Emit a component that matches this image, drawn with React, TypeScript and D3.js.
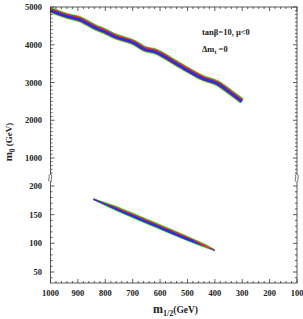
import React from 'react';
import * as d3 from 'd3';

// upper branch (m0 in GeV, one line)
const upperM12 = [1000, 938, 894, 839, 802, 766, 693, 656, 620, 543, 517, 444, 393, 345, 301];
const upperM0 = [4920, 4760, 4680, 4470, 4360, 4230, 4050, 3890, 3830, 3520, 3410, 3120, 2990, 2750, 2510];

// lower branch (a thin band: outer edges)
const lowerM12 = [843, 800, 773, 700, 649, 590, 528, 470, 430, 400];
const lowerTop = [178.8, 172.1, 167.9, 153.7, 143.4, 131.7, 119.1, 106.9, 97.9, 89.2];
const lowerBottom = [175.8, 165.1, 158.9, 143.7, 133.4, 121.7, 109.1, 97.9, 90.9, 86.8];

const xTicks = [1000, 900, 800, 700, 600, 500, 400, 300, 200, 100];
const yUpperTicks = [1000, 2000, 3000, 4000, 5000];
const yLowerTicks = [50, 100, 150, 200];

const W = 303;
const H = 319;

export default function App() {
  const x = d3.scaleLinear().domain([1000, 100]).range([50.5, 297]);
  const yUp = d3.scaleLinear().domain([1000, 5000]).range([158, 7]);
  const yLo = d3.scaleLinear().domain([50, 200]).range([272, 186]);

  const left = x(1000);
  const right = x(100);
  const top = yUp(5000);
  const bottom = 283;
  const breakY = 178;

  const upLine = d3.line<number>()
    .x((d, i) => x(upperM12[i]))
    .y(d => yUp(d))
    .curve(d3.curveMonotoneX);

  const lowArea = (topArr: number[], botArr: number[]) =>
    d3.area<number>()
      .x((d, i) => x(lowerM12[i]))
      .y0((d, i) => yLo(Math.min(botArr[i], topArr[i])))
      .y1((d, i) => yLo(topArr[i]))
      .curve(d3.curveMonotoneX)(lowerM12) || '';

  const inset = 1.7;
  const last = lowerM12.length - 1;
  const redTop = lowerTop.map((t, i) => (i === 0 || i === last) ? t : t - inset);
  const redBot = lowerBottom.map((b, i) => (i === 0 || i === last) ? b : b + inset);
  const blueTop = lowerTop.map((t, i) => {
    const mid = (t + lowerBottom[i]) / 2;
    return lowerM12[i] < 460 ? lowerBottom[i] + inset : mid + 1;
  });

  // minor ticks
  const xMinor = d3.range(1000, 99, -20);
  const yUpMinor = d3.range(500, 5001, 100).filter(v => yUp(v) <= breakY);
  const yLoMinor = d3.range(40, 215, 10).filter(v => yLo(v) >= breakY && yLo(v) <= bottom);

  const font = "'Liberation Serif', 'Times New Roman', serif";
  const ink = '#333';

  const frameTicks: JSX.Element[] = [];
  xMinor.forEach(v => {
    const major = v % 100 === 0;
    const len = major ? 4 : 2;
    frameTicks.push(<line key={'xb' + v} x1={x(v)} x2={x(v)} y1={bottom} y2={bottom - len} />);
    frameTicks.push(<line key={'xt' + v} x1={x(v)} x2={x(v)} y1={top} y2={top + len} />);
  });
  yUpMinor.forEach(v => {
    const len = v % 1000 === 0 ? 4 : 2;
    const y = yUp(v);
    frameTicks.push(<line key={'yl' + v} x1={left} x2={left + len} y1={y} y2={y} />);
    frameTicks.push(<line key={'yr' + v} x1={right} x2={right - len} y1={y} y2={y} />);
  });
  yLoMinor.forEach(v => {
    const len = v % 50 === 0 ? 4 : 2;
    const y = yLo(v);
    frameTicks.push(<line key={'yll' + v} x1={left} x2={left + len} y1={y} y2={y} />);
    frameTicks.push(<line key={'yrl' + v} x1={right} x2={right - len} y1={y} y2={y} />);
  });

  const breakMark = (cx: number, k: string) => (
    <g key={k} fill="none" stroke={ink} strokeWidth={0.7}>
      <rect x={cx - 2.5} y={breakY - 3} width={5} height={6} fill="#fff" stroke="none" />
      <path d={`M${cx - 1.5},${breakY + 3.5} C${cx - 2.5},${breakY} ${cx - 0.5},${breakY} ${cx - 1.5},${breakY - 3.5}`} />
      <path d={`M${cx + 1},${breakY + 3.5} C${cx},${breakY} ${cx + 2},${breakY} ${cx + 1},${breakY - 3.5}`} />
    </g>
  );

  return (
    <svg width={W} height={H} style={{ position: 'absolute', left: 0, top: 0, background: '#fff' }}>
      {/* upper branch */}
      <g fill="none" strokeLinecap="butt" strokeLinejoin="round">
        <path d={upLine(upperM0) || ''} stroke="#3ee03a" strokeWidth={6} />
        <path d={upLine(upperM0) || ''} stroke="#e8301c" strokeWidth={4.4} />
        <path d={upLine(upperM0) || ''} stroke="#2230e8" strokeWidth={2.6} transform="translate(0,0.5)" />
      </g>
      {/* lower branch */}
      <path d={lowArea(lowerTop, lowerBottom)} fill="#3ee03a" />
      <path d={lowArea(redTop, redBot)} fill="#e8301c" />
      <path d={lowArea(blueTop, redBot)} fill="#2230e8" />

      {/* frame */}
      <g stroke={ink} strokeWidth={0.8}>
        <rect x={left} y={top} width={right - left} height={bottom - top} fill="none" />
        {frameTicks}
      </g>
      {breakMark(left, 'bl')}
      {breakMark(right, 'br')}

      <g fontFamily={font} fontWeight="bold" fontSize={8.5} fill="#222">
        {xTicks.map(v => (
          <text key={'xl' + v} x={x(v)} y={296} textAnchor="middle">{v}</text>
        ))}
        {yUpperTicks.map(v => (
          <text key={'yu' + v} x={42} y={yUp(v) + 3} textAnchor="end">{v}</text>
        ))}
        {yLowerTicks.map(v => (
          <text key={'ylo' + v} x={42} y={yLo(v) + 3} textAnchor="end">{v}</text>
        ))}
      </g>

      {/* axis titles */}
      <text x={153} y={313} fontFamily={font} fontWeight="bold" fill="#222">
        <tspan fontSize={12}>m</tspan>
        <tspan fontSize={8} dy={3}>1/2</tspan>
        <tspan fontSize={9.5} dy={-3}>(GeV)</tspan>
      </text>
      <text transform={`translate(12,${142}) rotate(-90)`} textAnchor="middle" fontFamily={font} fontWeight="bold" fill="#222">
        <tspan fontSize={11}>m</tspan>
        <tspan fontSize={7.5} dy={2.5}>0</tspan>
        <tspan fontSize={9} dy={-2.5}>{'  (GeV)'}</tspan>
      </text>

      {/* legend */}
      <g fontFamily={font} fontWeight="bold" fontSize={8.5} fill="#222">
        <text x={202} y={35}>tanβ=10, μ&lt;0</text>
        <text x={202} y={52}>
          <tspan>Δm</tspan>
          <tspan fontSize={6} dy={2}>t</tspan>
          <tspan dy={-2}>{' =0'}</tspan>
        </text>
      </g>
    </svg>
  );
}
